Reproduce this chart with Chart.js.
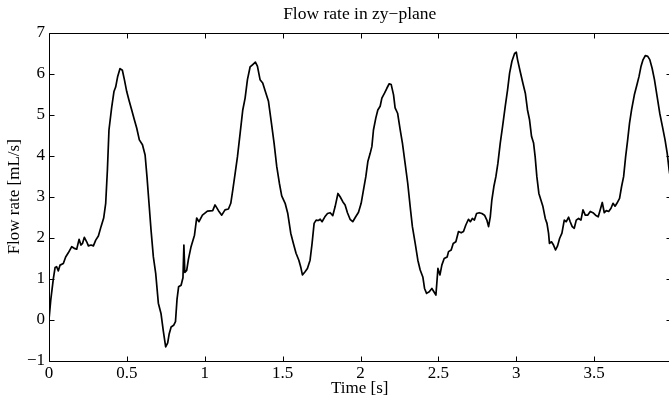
<!DOCTYPE html>
<html>
<head>
<meta charset="utf-8">
<script src="https://cdn.jsdelivr.net/npm/chart.js@4.4.0/dist/chart.umd.min.js"></script>
<style>
html,body{margin:0;padding:0;background:#fff;overflow:hidden;width:669px;height:402px}
canvas{display:block}
</style>
</head>
<body>
<canvas id="c" width="672" height="402" style="width:672px;height:402px"></canvas>
<script>
// ---- data ----
const times = [
0.000,0.011,0.028,0.039,0.049,0.060,0.071,0.092,0.107,0.124,0.146,0.162,0.178,0.193,0.205,0.215,0.227,0.242,0.253,0.270,
0.285,0.300,0.317,0.334,0.351,0.364,0.375,0.385,0.402,0.417,0.428,0.441,0.456,0.471,0.484,0.499,0.514,0.531,0.548,0.563,
0.580,0.600,0.617,0.629,0.642,0.655,0.670,0.685,0.702,0.719,0.734,0.749,0.762,0.771,0.784,0.800,0.812,0.822,0.832,0.848,
0.860,0.866,0.872,0.884,0.895,0.912,0.934,0.948,0.963,0.985,1.017,1.051,1.066,1.088,1.109,1.130,1.152,1.167,1.180,1.195,
1.210,1.227,1.244,1.259,1.274,1.291,1.308,1.325,1.338,1.355,1.372,1.389,1.409,1.428,1.445,1.462,1.479,1.494,1.516,1.533,
1.552,1.569,1.586,1.604,1.617,1.627,1.644,1.659,1.676,1.689,1.702,1.715,1.730,1.741,1.753,1.771,1.788,1.805,1.822,1.837,
1.855,1.869,1.886,1.901,1.916,1.933,1.950,1.967,1.987,2.004,2.019,2.034,2.047,2.062,2.073,2.083,2.098,2.111,2.126,2.137,
2.154,2.169,2.184,2.197,2.212,2.222,2.238,2.255,2.269,2.286,2.303,2.321,2.333,2.351,2.368,2.383,2.400,2.411,2.424,2.441,
2.458,2.471,2.484,2.497,2.510,2.522,2.537,2.556,2.565,2.582,2.595,2.612,2.629,2.646,2.661,2.676,2.693,2.705,2.718,2.731,
2.745,2.762,2.779,2.796,2.811,2.822,2.833,2.843,2.856,2.869,2.882,2.897,2.912,2.929,2.944,2.957,2.972,2.989,3.000,3.008,
3.025,3.042,3.058,3.072,3.085,3.098,3.111,3.121,3.132,3.145,3.158,3.171,3.186,3.197,3.207,3.213,3.226,3.239,3.252,3.265,
3.278,3.293,3.308,3.321,3.336,3.346,3.359,3.372,3.385,3.400,3.415,3.428,3.443,3.458,3.475,3.492,3.509,3.526,3.539,3.552,
3.565,3.578,3.593,3.608,3.621,3.634,3.646,3.663,3.676,3.689,3.702,3.715,3.727,3.740,3.758,3.775,3.788,3.801,3.814,3.829,
3.844,3.857,3.872,3.887,3.904,3.921,3.938,3.955,3.969,3.981,3.995
];
const flow = [
0.00,0.47,1.00,1.27,1.29,1.19,1.33,1.37,1.53,1.63,1.78,1.74,1.72,1.96,1.82,1.86,2.01,1.90,1.80,1.82,
1.80,1.94,2.04,2.27,2.48,2.84,3.66,4.63,5.17,5.57,5.68,5.94,6.13,6.09,5.86,5.57,5.35,5.12,4.88,4.68,
4.39,4.27,4.02,3.49,2.84,2.19,1.53,1.13,0.40,0.15,-0.28,-0.67,-0.57,-0.36,-0.18,-0.14,-0.05,0.50,0.80,0.84,
1.02,1.82,1.15,1.20,1.47,1.78,2.06,2.48,2.39,2.55,2.65,2.66,2.80,2.66,2.55,2.68,2.70,2.84,3.17,3.57,
3.98,4.55,5.12,5.41,5.86,6.17,6.23,6.29,6.19,5.86,5.78,5.57,5.33,4.80,4.31,3.74,3.33,3.02,2.84,2.59,
2.11,1.86,1.62,1.45,1.27,1.09,1.17,1.25,1.45,1.86,2.35,2.43,2.42,2.45,2.39,2.51,2.59,2.61,2.54,2.76,
3.08,3.00,2.88,2.80,2.61,2.45,2.39,2.50,2.62,2.84,3.17,3.49,3.86,4.06,4.23,4.63,4.92,5.12,5.21,5.41,
5.53,5.65,5.76,5.74,5.49,5.17,5.04,4.63,4.31,3.82,3.33,2.68,2.27,1.86,1.45,1.21,1.04,0.76,0.64,0.68,
0.76,0.68,0.60,1.25,1.09,1.33,1.49,1.53,1.66,1.70,1.86,1.90,2.15,2.12,2.15,2.31,2.45,2.39,2.47,2.43,
2.59,2.61,2.59,2.55,2.43,2.27,2.51,2.92,3.25,3.49,3.82,4.31,4.72,5.21,5.61,6.02,6.31,6.50,6.53,6.35,
6.06,5.78,5.53,5.12,4.88,4.47,4.31,3.98,3.49,3.08,2.92,2.76,2.47,2.35,2.11,1.86,1.90,1.82,1.70,1.80,
1.98,2.11,2.43,2.39,2.50,2.39,2.27,2.23,2.43,2.47,2.43,2.68,2.55,2.55,2.64,2.61,2.55,2.51,2.68,2.86,
2.61,2.66,2.64,2.72,2.84,2.77,2.84,2.96,3.25,3.49,3.98,4.39,4.80,5.12,5.49,5.74,5.94,6.19,6.35,6.45,
6.43,6.35,6.14,5.86,5.45,5.04,4.72,4.39,4.06,3.66,3.30
];
const xTicks = [0, 0.5, 1, 1.5, 2, 2.5, 3, 3.5];
const yTicks = [-1, 0, 1, 2, 3, 4, 5, 6, 7];
const xRange = [0, 3.99];
const yRange = [-1, 7];
const titleText = 'Flow rate in zy\u2212plane';
const xTitle = 'Time [s]';
const yTitle = 'Flow rate [mL/s]';

// ---- styling ----
const FAMILY = "'Liberation Serif','Times New Roman',serif";
const FS = 17;
const TICK_LEN = 5;

const boxPlugin = {
  id: 'matlabBox',
  afterDatasetsDraw(chart) {
    const {ctx, chartArea: a, scales} = chart;
    const xs = scales.x, ys = scales.y;
    const L = Math.round(a.left) + 0.5, R = Math.round(a.right) + 0.5;
    const T = Math.round(a.top) + 0.5, B = Math.round(a.bottom) + 0.5;
    ctx.save();
    ctx.strokeStyle = '#000';
    ctx.lineWidth = 1;
    ctx.beginPath();
    ctx.rect(L, T, R - L, B - T);
    xTicks.forEach(v => {
      const px = Math.round(xs.getPixelForValue(v)) + 0.5;
      ctx.moveTo(px, B); ctx.lineTo(px, B - TICK_LEN);
      ctx.moveTo(px, T); ctx.lineTo(px, T + TICK_LEN);
    });
    yTicks.forEach(v => {
      const py = Math.round(ys.getPixelForValue(v)) + 0.5;
      ctx.moveTo(L, py); ctx.lineTo(L + TICK_LEN, py);
      ctx.moveTo(R, py); ctx.lineTo(R - TICK_LEN, py);
    });
    ctx.stroke();
    ctx.restore();
  }
};

Chart.defaults.font.family = FAMILY;
Chart.defaults.color = '#000';

new Chart(document.getElementById('c'), {
  type: 'line',
  data: {
    datasets: [{
      data: times.map((t, i) => ({x: t, y: flow[i]})),
      borderColor: '#000',
      borderWidth: 1.7,
      pointRadius: 0,
      tension: 0,
      fill: false,
      borderJoinStyle: 'round'
    }]
  },
  options: {
    responsive: false,
    animation: false,
    devicePixelRatio: 1,
    layout: {padding: {left: 0, right: 1.5, top: 0, bottom: 0}},
    plugins: {
      legend: {display: false},
      tooltip: {enabled: false},
      title: {
        display: true,
        fullSize: false,
        text: titleText,
        color: '#000',
        font: {family: FAMILY, size: 17.5, weight: 'normal', lineHeight: 1.2},
        padding: {top: 4.0, bottom: 8.0}
      }
    },
    scales: {
      x: {
        type: 'linear',
        min: xRange[0], max: xRange[1],
        afterBuildTicks: s => { s.ticks = xTicks.map(v => ({value: v})); },
        afterFit: s => { s.height = 41.5; },
        grid: {display: false, drawTicks: false},
        border: {display: false},
        ticks: {
          font: {family: FAMILY, size: FS},
          color: '#000',
          padding: 3,
          maxRotation: 0,
          autoSkip: false,
          callback: v => String(v)
        },
        title: {
          display: true, text: xTitle, color: '#000',
          font: {family: FAMILY, size: FS, lineHeight: 1.2},
          padding: {top: 0, bottom: 3}
        }
      },
      y: {
        type: 'linear',
        min: yRange[0], max: yRange[1],
        afterBuildTicks: s => { s.ticks = yTicks.map(v => ({value: v})); },
        afterFit: s => { s.width = 49; },
        grid: {display: false, drawTicks: false},
        border: {display: false},
        ticks: {
          font: {family: FAMILY, size: FS},
          color: '#000',
          padding: 4,
          autoSkip: false,
          callback: v => String(v).replace('-', '\u2212')
        },
        title: {
          display: true, text: yTitle, color: '#000',
          font: {family: FAMILY, size: FS, lineHeight: 1.2},
          padding: {top: 4.6, bottom: 0}
        }
      }
    }
  },
  plugins: [boxPlugin]
});
</script>
</body>
</html>
